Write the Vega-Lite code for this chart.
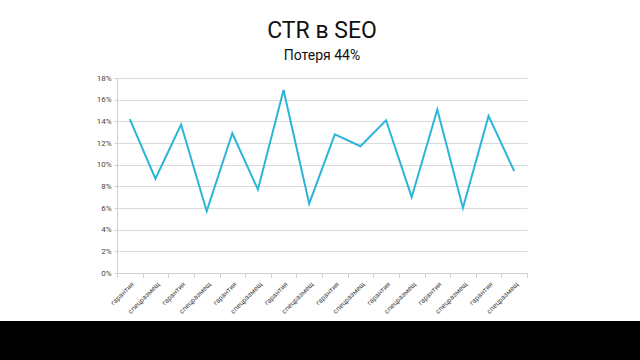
{
  "$schema": "https://vega.github.io/schema/vega-lite/v6.json",
  "background": "white",
  "padding": {"left": 0, "top": 20, "right": 0, "bottom": 0},
  "spacing": 48,
  "columns": 1,
  "center": true,
  "bounds": "flush",
  "config": {"view": {"stroke": null}, "font": "Roboto"},
  "concat": [
    {
      "width": 410,
      "height": 195,
      "title": {
        "text": "CTR в SEO",
        "subtitle": "Потеря 44%",
        "fontSize": 23,
        "fontWeight": "normal",
        "color": "#111111",
        "subtitleFontSize": 14,
        "subtitleColor": "#111111",
        "subtitlePadding": 6,
        "anchor": "middle",
        "frame": "group",
        "offset": 11
      },
      "data": {
        "values": [
          {"n": 1, "type": "гарантия", "ctr": 0.142},
          {"n": 2, "type": "спецразмещ", "ctr": 0.087},
          {"n": 3, "type": "гарантия", "ctr": 0.137},
          {"n": 4, "type": "спецразмещ", "ctr": 0.057},
          {"n": 5, "type": "гарантия", "ctr": 0.129},
          {"n": 6, "type": "спецразмещ", "ctr": 0.077},
          {"n": 7, "type": "гарантия", "ctr": 0.169},
          {"n": 8, "type": "спецразмещ", "ctr": 0.064},
          {"n": 9, "type": "гарантия", "ctr": 0.128},
          {"n": 10, "type": "спецразмещ", "ctr": 0.117},
          {"n": 11, "type": "гарантия", "ctr": 0.141},
          {"n": 12, "type": "спецразмещ", "ctr": 0.070},
          {"n": 13, "type": "гарантия", "ctr": 0.151},
          {"n": 14, "type": "спецразмещ", "ctr": 0.060},
          {"n": 15, "type": "гарантия", "ctr": 0.145},
          {"n": 16, "type": "спецразмещ", "ctr": 0.094}
        ]
      },
      "mark": {"type": "line", "color": "#2cb4d9", "strokeWidth": 2},
      "encoding": {
        "x": {
          "field": "n",
          "type": "ordinal",
          "scale": {"type": "band", "paddingInner": 0, "paddingOuter": 0},
          "axis": {
            "title": null,
            "labelExpr": "datum.value % 2 == 1 ? 'гарантия' : (datum.value % 2 == 0 ? 'спецразмещ' : '')",
            "labelAngle": -45,
            "labelFontSize": 7,
            "labelColor": "#444444",
            "tickBand": "extent",
            "tickSize": 4,
            "tickColor": "#d0d0d0",
            "domainColor": "#d0d0d0",
            "grid": false,
            "labelPadding": 3
          }
        },
        "y": {
          "field": "ctr",
          "type": "quantitative",
          "scale": {"domain": [0, 0.18]},
          "axis": {
            "title": null,
            "format": ".0%",
            "values": [0, 0.02, 0.04, 0.06, 0.08, 0.1, 0.12, 0.14, 0.16, 0.18],
            "labelFontSize": 8,
            "labelColor": "#444444",
            "tickSize": 3,
            "tickColor": "#d0d0d0",
            "domainColor": "#d0d0d0",
            "gridColor": "#dadada",
            "labelPadding": 3
          }
        }
      }
    },
    {
      "width": 644,
      "height": 60,
      "view": {"fill": "black", "stroke": null},
      "data": {"values": [{}]},
      "mark": {"type": "point", "opacity": 0},
      "encoding": {}
    }
  ]
}
